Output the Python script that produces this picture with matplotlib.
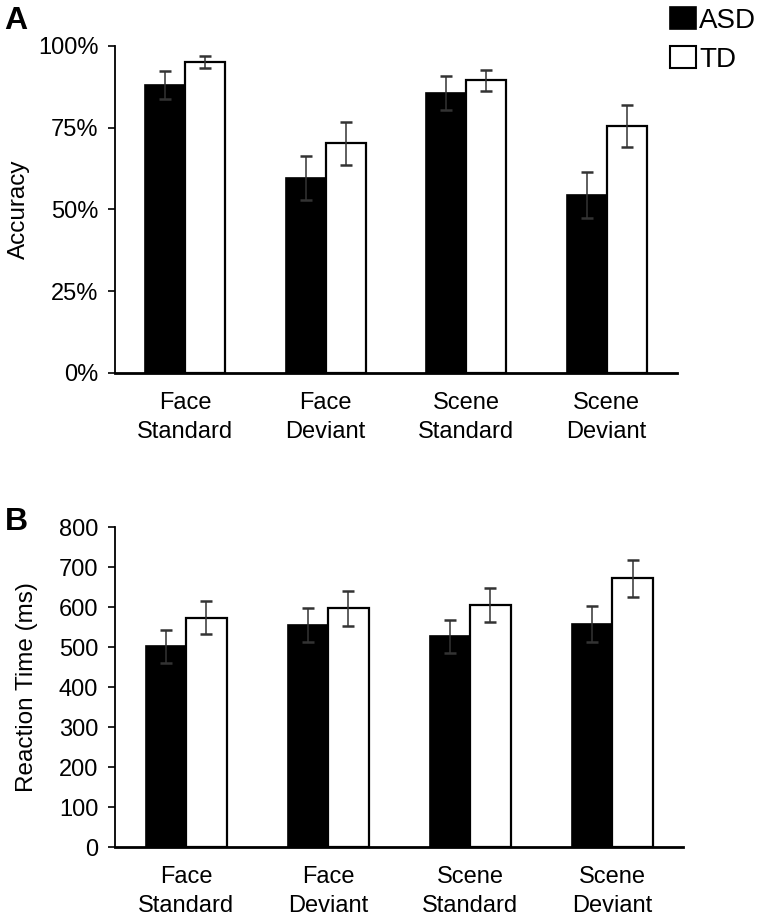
import numpy as np
import matplotlib.pyplot as plt
from matplotlib.patches import Patch
from matplotlib.ticker import FuncFormatter

plt.rcParams['font.family'] = ['Liberation Sans', 'DejaVu Sans']

categorias = ["Face\nStandard", "Face\nDeviant", "Scene\nStandard", "Scene\nDeviant"]
grupos = ["ASD", "TD"]

# accuracy (%)
acc_asd = [88.2, 59.6, 85.7, 54.5]
acc_asd_err = [4.3, 6.8, 5.2, 7.0]
acc_td = [95.0, 70.3, 89.5, 75.6]
acc_td_err = [1.8, 6.6, 3.2, 6.4]

# reaction time (ms)
rt_asd = [502, 555, 527, 557]
rt_asd_err = [41, 43, 42, 45]
rt_td = [574, 597, 605, 672]
rt_td_err = [41, 44, 42, 47]

fig = plt.figure(figsize=(7.64, 9.16), dpi=100)
ax1 = fig.add_axes([0.1505, 0.5928, 0.7356, 0.357])
ax2 = fig.add_axes([0.1505, 0.0753, 0.744, 0.349])

x = np.arange(len(categorias))
w = 0.285

def panel(ax, asd, asd_err, td, td_err):
    ax.bar(x - w/2, asd, w, color='black', edgecolor='black', lw=1.2,
           yerr=asd_err, error_kw=dict(ecolor='#333333', elinewidth=1.1, capsize=4, capthick=1.8))
    ax.bar(x + w/2, td, w, color='white', edgecolor='black', lw=1.6,
           yerr=td_err, error_kw=dict(ecolor='#333333', elinewidth=1.1, capsize=4, capthick=1.8))
    ax.set_xlim(-0.5, 3.5)
    ax.set_xticks(x)
    ax.set_xticklabels(categorias, fontsize=17, linespacing=1.4)
    ax.tick_params(axis='x', length=0, pad=14)
    ax.tick_params(axis='y', length=5, width=1.2, labelsize=17, pad=7)
    ax.spines['top'].set_visible(False)
    ax.spines['right'].set_visible(False)
    ax.spines['left'].set_linewidth(1.3)
    ax.spines['bottom'].set_linewidth(2)

panel(ax1, acc_asd, acc_asd_err, acc_td, acc_td_err)
ax1.set_ylim(0, 100)
ax1.set_yticks([0, 25, 50, 75, 100])
ax1.yaxis.set_major_formatter(FuncFormatter(lambda v, p: f"{v:.0f}%"))
ax1.set_ylabel("Accuracy", fontsize=17.5)
ax1.yaxis.set_label_coords(-0.152, 0.5)

panel(ax2, rt_asd, rt_asd_err, rt_td, rt_td_err)
ax2.set_ylim(0, 800)
ax2.set_yticks(np.arange(0, 801, 100))
ax2.set_ylabel("Reaction Time (ms)", fontsize=17.5)
ax2.yaxis.set_label_coords(-0.135, 0.5)

fig.text(0.006, 0.993, "A", fontsize=23, fontweight='bold', va='top')
fig.text(0.006, 0.446, "B", fontsize=23, fontweight='bold', va='top')

handles = [Patch(facecolor='black', edgecolor='black', lw=1.2),
           Patch(facecolor='white', edgecolor='black', lw=1.5)]
fig.legend(handles, grupos, loc='upper left', bbox_to_anchor=(670 / 764, 1 - 7 / 916), frameon=False,
           fontsize=20, handlelength=0.95, handleheight=0.85, handletextpad=0.1, labelspacing=0.45,
           borderpad=0, borderaxespad=0)

fig.savefig("out.png", dpi=100)
